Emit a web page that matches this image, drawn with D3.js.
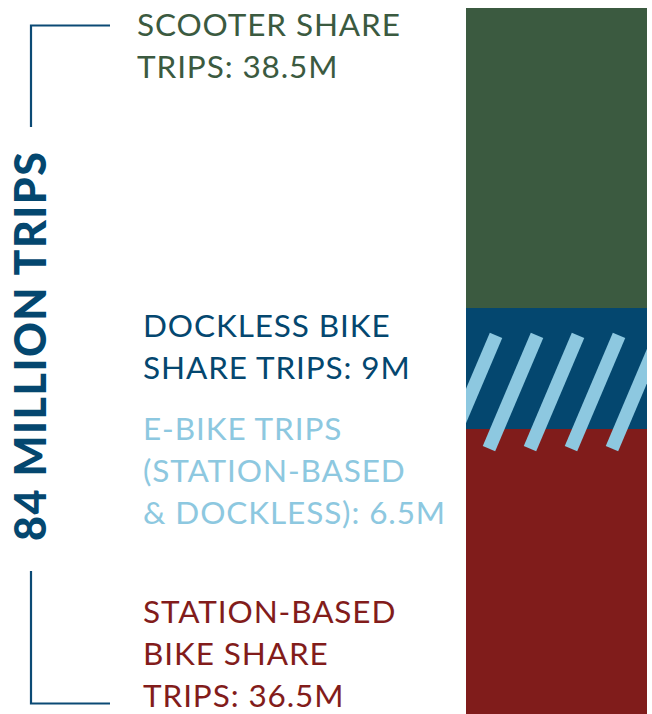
<!DOCTYPE html>
<html>
<head>
<meta charset="utf-8">
<script src="https://cdn.jsdelivr.net/npm/d3@7"></script>
<style>
  html, body { margin: 0; padding: 0; background: #fff; }
  svg { display: block; }
</style>
</head>
<body>
<svg id="chart" width="652" height="714"></svg>
<script>
// Trip counts (millions), stacked top to bottom in the bar
const segments = ["Scooter share", "Dockless bike share", "E-bike", "Station-based bike share"];
const tripsM = [38.5, 9, 6.5, 36.5];
const segmentLabels = [
  ["SCOOTER SHARE", "TRIPS: 38.5M"],
  ["DOCKLESS BIKE", "SHARE TRIPS: 9M"],
  ["E-BIKE TRIPS", "(STATION-BASED", "& DOCKLESS): 6.5M"],
  ["STATION-BASED", "BIKE SHARE", "TRIPS: 36.5M"]
];
const totalLabel = "84 MILLION TRIPS";

const colors = ["#3b5a40", "#04476f", "#04476f", "#801c1b"];
const textColors = ["#3b5a40", "#04476f", "#8dc8e0", "#821c1b"];
const stripeColor = "#8dc8e0";
const bracketColor = "#0b4a75";

const svg = d3.select("#chart");
const W = 652, H = 714;
const barX0 = 466, barX1 = 647;

// Stack the segments
const ends = Array.from(d3.cumsum(tripsM));
const starts = ends.map((e, i) => e - tripsM[i]);
const y = d3.scaleLinear().domain([0, d3.sum(tripsM)]).range([8, H]);

svg.append("defs").append("clipPath").attr("id", "barClip")
  .append("rect")
  .attr("x", barX0).attr("width", barX1 - barX0)
  .attr("y", y(0)).attr("height", y(d3.sum(tripsM)) - y(0));

const bar = svg.append("g");
bar.selectAll("rect.seg")
  .data(tripsM)
  .join("rect")
  .attr("class", "seg")
  .attr("x", barX0)
  .attr("width", barX1 - barX0)
  .attr("y", (d, i) => Math.round(y(starts[i])))
  .attr("height", (d, i) => Math.round(y(ends[i])) - Math.round(y(starts[i])))
  .attr("fill", (d, i) => colors[i])
  .attr("shape-rendering", "crispEdges");

// Hatched stripes marking e-bike trips, around the e-bike segment
const ebike = segments.indexOf("E-bike");
const hatchCy = (y(starts[ebike]) + y(ends[ebike])) / 2 - 12;
const stripeLen = 123, stripeW = 13.5, stripeGap = 41;
bar.append("g").attr("clip-path", "url(#barClip)")
  .selectAll("rect")
  .data(d3.range(barX0 + 6, barX1 + 20, stripeGap))
  .join("rect")
  .attr("x", -stripeW / 2)
  .attr("y", -stripeLen / 2)
  .attr("width", stripeW)
  .attr("height", stripeLen)
  .attr("fill", stripeColor)
  .attr("transform", cx => `translate(${cx},${hatchCy}) rotate(23)`);

// Category labels
const fontFamily = "Lato, 'Open Sans', sans-serif";
const labelX = [137, 143, 143, 143];
const firstBaseline = [36, 337, 440, 623];
const lineStep = 42;
segmentLabels.forEach((lines, i) => {
  const t = svg.append("text")
    .attr("x", labelX[i])
    .attr("y", firstBaseline[i])
    .attr("fill", textColors[i])
    .style("font-family", fontFamily)
    .style("font-size", "31.5px")
    .style("font-weight", 400)
    .style("letter-spacing", "0.9px");
  lines.forEach((line, j) => {
    t.append("tspan")
      .attr("x", labelX[i])
      .attr("dy", j === 0 ? 0 : lineStep)
      .text(line);
  });
});

// Total bracket and vertical title
const bx = 31, bxEnd = 110;
svg.append("path")
  .attr("d", `M${bxEnd},25.5 H${bx} V127`)
  .attr("fill", "none").attr("stroke", bracketColor).attr("stroke-width", 2.2);
svg.append("path")
  .attr("d", `M${bx},571 V703.5 H${bxEnd}`)
  .attr("fill", "none").attr("stroke", bracketColor).attr("stroke-width", 2.2);

svg.append("text")
  .attr("transform", `translate(46,346.5) rotate(-90)`)
  .attr("text-anchor", "middle")
  .attr("fill", "#04476f")
  .style("font-family", fontFamily)
  .style("font-size", "43px")
  .style("font-weight", 900)
  .attr("textLength", 389)
  .attr("lengthAdjust", "spacing")
  .text(totalLabel);
</script>
</body>
</html>
